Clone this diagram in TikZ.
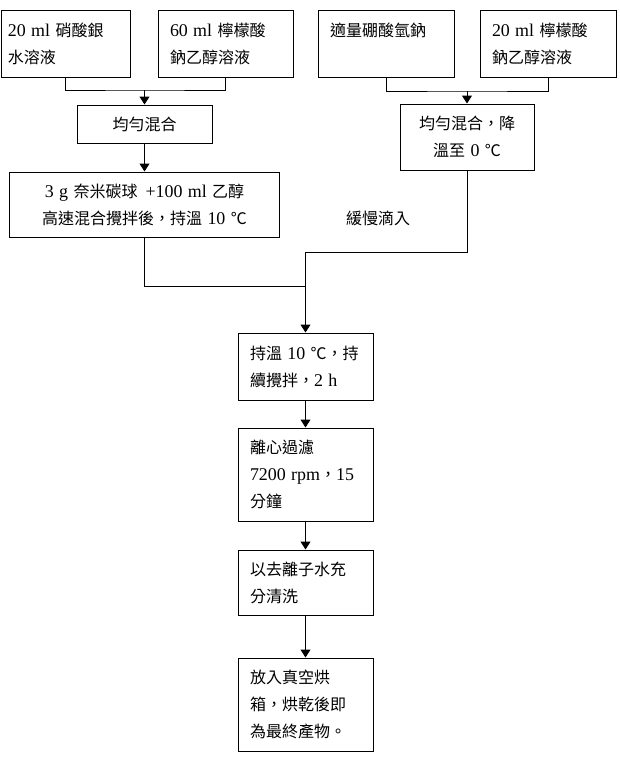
\documentclass[tikz,border=0pt]{standalone}
\usepackage{fontspec}
\setmainfont{Noto Sans CJK TC}
\newfontfamily\latinfont[Scale=1.12]{Liberation Serif}
\newcommand{\en}[1]{{\latinfont #1}}
\usetikzlibrary{arrows.meta}
\usetikzlibrary{calc}

\tikzset{
  flowbox/.style={draw, line width=1pt, inner xsep=12pt, inner ysep=2pt, align=left,
    font=\fontsize{16}{27}\selectfont},
  flowline/.style={line width=1pt},
  flowarrow/.style={line width=1pt, -{Triangle[length=8pt,width=10pt]}},
}

\begin{document}
\begin{tikzpicture}[x=1pt, y=-1pt]
        \useasboundingbox (0, 0) rectangle (619, 777);

        % top row
        \node [flowbox, inner xsep=7pt, text width=115pt, minimum height=67pt] (nitrate) at (65.5, 43.5) {\en{20~ml}~硝酸銀\\水溶液};
        \node [flowbox, text width=111pt, minimum height=67pt] (citrateA) at (225.5, 43.5) {\en{60~ml}~檸檬酸\\鈉乙醇溶液};
        \node [flowbox, text width=112pt, minimum height=67pt] (borate) at (386, 43.5) {適量硼酸氫鈉\\\mbox{}};
        \node [flowbox, text width=112pt, minimum height=67pt] (citrateB) at (548, 43.5) {\en{20~ml}~檸檬酸\\鈉乙醇溶液};

        % mixing
        \node [flowbox, align=center, text width=111pt, minimum height=38pt] (mixA) at (144.5, 124) {均勻混合};
        \node [flowbox, align=center, text width=110pt, minimum height=66pt] (mixB) at (467, 137) {均勻混合，降\\溫至~\en{0}~℃};
        \node [flowbox, align=center, text width=246pt, minimum height=65pt] (carbon) at (144.5, 204.5) {\en{3~g}~奈米碳球\enspace\en{+100~ml}~乙醇\\高速混合攪拌後，持溫~\en{10}~℃};
        \node [font=\fontsize{16}{27}\selectfont] (drip) at (378, 218) {緩慢滴入};

        % main column
        \node [flowbox, text width=111pt, minimum height=67pt] (hold) at (305.5, 366.5) {持溫~\en{10}~℃，持\\續攪拌，\en{2~h}};
        \node [flowbox, text width=111pt, minimum height=93pt] (spin) at (305.5, 474.5) {離心過濾\\\en{7200~rpm}，\en{15}\\分鐘};
        \node [flowbox, text width=111pt, minimum height=65pt] (wash) at (305.5, 582.5) {以去離子水充\\分清洗};
        \node [flowbox, text width=111pt, minimum height=93pt] (dry) at (305.5, 704.5) {放入真空烘\\箱，烘乾後即\\為最終產物。};

        \coordinate (joinA) at (mixA.north |- 0, 90);
        \coordinate (joinB) at (mixB.north |- 0, 91);
        \coordinate (joinC) at (hold.north |- 0, 252);
        \coordinate (joinD) at (hold.north |- 0, 286);

        \draw [flowline] (nitrate.south) |- (joinA) -| (citrateA.south);
        \draw [flowarrow] (joinA) -- (mixA.north);
        \draw [flowline] (borate.south) |- (joinB) -| (citrateB.south);
        \draw [flowarrow] (joinB) -- (mixB.north);
        \draw [flowarrow] (mixA.south) -- (carbon.north);

        \draw [flowline] (mixB.south) |- (joinC);
        \draw [flowline] (carbon.south) |- (joinD);
        \draw [flowarrow] (joinC) -- (hold.north);

        \draw [flowarrow] (hold.south) -- (spin.north);
        \draw [flowarrow] (spin.south) -- (wash.north);
        \draw [flowarrow] (wash.south) -- (dry.north);
    \end{tikzpicture}
\end{document}
